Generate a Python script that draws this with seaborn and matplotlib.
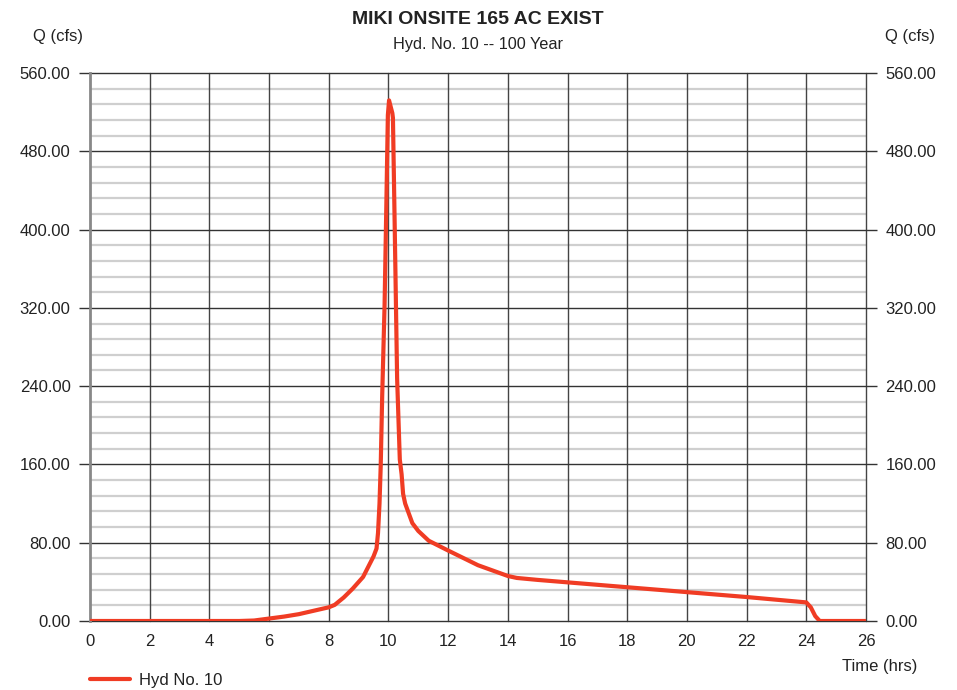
import numpy as np
import pandas as pd
import matplotlib
matplotlib.use("Agg")
import matplotlib.pyplot as plt
import seaborn as sns
from matplotlib.ticker import FormatStrFormatter
from matplotlib.lines import Line2D

# ---- data ----
time_hrs = [0, 2, 4, 5.0, 5.5, 6.0, 6.5, 7.0, 7.5, 8.0, 8.2, 8.5, 8.8, 9.15, 9.5,
            9.6, 9.65, 9.70, 9.74, 9.79, 9.87, 9.93, 9.98, 10.02, 10.13, 10.15,
            10.21, 10.29, 10.38, 10.44, 10.49, 10.56, 10.8, 11.0, 11.35, 12.0,
            13.0, 14.0, 14.3, 15.0, 16, 18, 20, 22, 24, 24.15, 24.3, 24.45, 25, 26]
flow_cfs = [0, 0, 0, 0, 0.5, 2.5, 4.5, 7, 10.5, 14, 16.5, 24, 33, 45, 66,
            74, 90, 120, 158, 230, 323, 427, 517, 532, 519, 514,
            402, 248, 165, 150, 130, 120, 100, 92, 82, 72,
            57, 46, 44, 42, 39.5, 34.5, 29.5, 24.5, 19, 14, 5, 0, 0, 0]

title = "MIKI ONSITE 165 AC EXIST"
subtitle = "Hyd. No. 10 -- 100 Year"
series_name = "Hyd No. 10"
x_ticks = list(range(0, 27, 2))
y_ticks = [0, 80, 160, 240, 320, 400, 480, 560]
y_minor = [v for v in range(0, 561, 16) if v % 80 != 0]

df = pd.DataFrame({"Time (hrs)": time_hrs, "Q (cfs)": flow_cfs})

sns.set_theme(style="white")
plt.rcParams['font.family'] = ['Liberation Sans', 'DejaVu Sans']
text_c = "#222222"

fig = plt.figure(figsize=(9.57, 6.90), dpi=100)
ax = fig.add_axes([90/957, 69/690, 776/957, 548/690])

ax.set_xlim(0, 26)
ax.set_ylim(0, 560)
ax.set_yticks(y_ticks)
ax.set_xticks(x_ticks)
ax.grid(False)

# grid lines drawn explicitly for layering
for v in y_minor:
    ax.axhline(v, color="#cfcfcf", lw=1.6, zorder=1)
for v in x_ticks[1:]:
    ax.axvline(v, color="#444444", lw=1.0, zorder=2, clip_on=False)
for v in y_ticks:
    ax.axhline(v, color="#333333", lw=1.0, zorder=3, clip_on=False)

sns.lineplot(data=df, x="Time (hrs)", y="Q (cfs)", ax=ax, color="#f03c24",
             lw=3, zorder=5, legend=False)

for s in ["top", "right", "bottom"]:
    ax.spines[s].set_visible(False)
ax.spines["left"].set_color("#888888")
ax.spines["left"].set_linewidth(2)
ax.spines["left"].set_zorder(4)

ax.yaxis.set_major_formatter(FormatStrFormatter("%.2f"))
ax.tick_params(axis="y", which="major", direction="out", length=8, width=1,
               color="#333333", labelsize=12, labelcolor=text_c, pad=6,
               left=True, right=True, labelleft=True, labelright=True)
ax.tick_params(axis="y", which="minor", length=0)
ax.tick_params(axis="x", which="major", length=0, labelsize=12,
               labelcolor=text_c, pad=9)
ax.set_xlabel("")
ax.set_ylabel("")

fig.text(478/957, 1 - 19/690, title, ha="center", va="center",
         fontsize=14, fontweight="bold", color=text_c)
fig.text(478/957, 1 - 45/690, subtitle, ha="center", va="center",
         fontsize=11.7, color=text_c)
fig.text(58/957, 1 - 37/690, "Q (cfs)", ha="center", va="center",
         fontsize=12, color=text_c)
fig.text(910/957, 1 - 37/690, "Q (cfs)", ha="center", va="center",
         fontsize=12, color=text_c)
fig.text(880/957, 1 - 666/690, "Time (hrs)", ha="center", va="center",
         fontsize=12, color=text_c)

leg = fig.legend([Line2D([0], [0], color="#f03c24", lw=3)], [series_name],
                 loc="center left", bbox_to_anchor=(90/957, 1 - 680/690),
                 frameon=False, fontsize=12, handlelength=2.4,
                 handletextpad=0.55, borderpad=0, borderaxespad=0)
for t in leg.get_texts():
    t.set_color(text_c)

fig.savefig("out.png", dpi=100)
